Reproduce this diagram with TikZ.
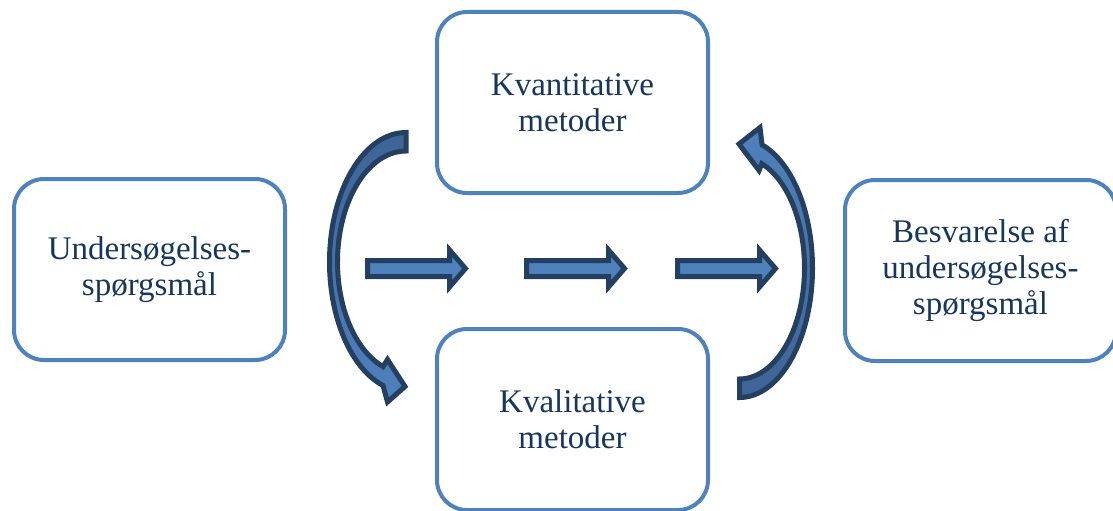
\documentclass[tikz,border=0pt]{standalone}
\usepackage{fontspec}
\setmainfont{Liberation Serif}
\usetikzlibrary{calc}
\definecolor{boxblue}{RGB}{79,129,189}
\definecolor{arrowedge}{RGB}{36,63,96}
\definecolor{arrowshade}{RGB}{62,100,150}
\definecolor{textnavy}{RGB}{23,54,93}
\begin{document}
\begin{tikzpicture}[x=1pt,y=1pt,
    box/.style={draw=boxblue, line width=4pt, rounded corners=30pt,
        minimum width=271pt, minimum height=181pt, inner sep=0pt,
        align=center, text=textnavy, font=\fontsize{33}{36}\selectfont},
    blockarrow/.style={draw=arrowedge, fill=boxblue, line width=5pt}]
    \useasboundingbox (0,0) rectangle (1113,-511);
    \clip (0,0) rectangle (1113,-511);
    \node [box] (question) at (149.5,-269.5) {Undersøgelses-\\spørgsmål};
    \node [box] (quant) at (572.5,-102.5) {Kvantitative\\metoder};
    \node [box] (qual) at (572.5,-419.5) {Kvalitative\\metoder};
    \node [box] (answer) at (980.5,-270.5) {Besvarelse af\\undersøgelses-\\spørgsmål};
    \foreach \x in {367.5,526.5,677.5}
        \draw [blockarrow] (\x,-260.5) -- ++(82,0) -- ++(0,10.5) -- ++(16,-18.5)
            -- ++(-16,-18.5) -- ++(0,10.5) -- ++(-82,0) -- cycle;
    \coordinate (lc) at (406,-262);
    \draw [blockarrow, top color=arrowshade, bottom color=boxblue]
        ($(lc)+(90:76.5pt and 129.5pt)$)
        arc [start angle=90, end angle=252.5, x radius=76.5pt, y radius=129.5pt]
        -- (387.5,-402) -- (405,-386.5) -- (387.5,-359.5)
        -- ($(lc)+(250.4:68.5pt and 111pt)$)
        arc [start angle=250.4, end angle=90, x radius=68.5pt, y radius=111pt] -- cycle;
    \coordinate (rc) at (739.5,-268);
    \draw [blockarrow, top color=boxblue, bottom color=arrowshade]
        ($(rc)+(-90:73pt and 129.5pt)$)
        arc [start angle=-90, end angle=72, x radius=73pt, y radius=129.5pt]
        -- (760,-127.5) -- (739,-144) -- (759,-170.5)
        -- ($(rc)+(70:65pt and 111pt)$)
        arc [start angle=70, end angle=-90, x radius=65pt, y radius=111pt] -- cycle;
\end{tikzpicture}
\end{document}
